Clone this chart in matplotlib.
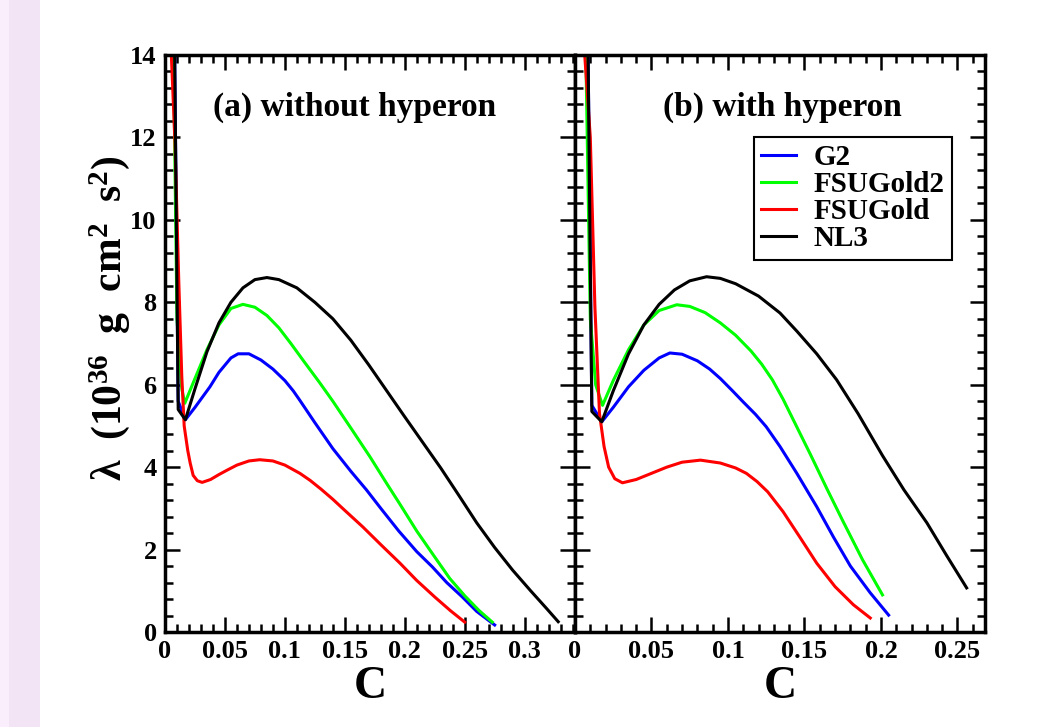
import matplotlib
matplotlib.use("Agg")
import matplotlib.pyplot as plt
from matplotlib.patches import Rectangle
from matplotlib.ticker import MultipleLocator

plt.rcParams['font.family'] = ['Liberation Serif', 'DejaVu Serif']
plt.rcParams['font.weight'] = 'bold'
plt.rcParams['axes.labelweight'] = 'bold'
plt.rcParams['mathtext.fontset'] = 'custom'
plt.rcParams['mathtext.rm'] = 'Liberation Serif:bold'
plt.rcParams['mathtext.it'] = 'Liberation Serif:bold'
plt.rcParams['mathtext.bf'] = 'Liberation Serif:bold'

# ---- panel (a): without hyperon ----
c_g2_a = [0.008, 0.011, 0.017, 0.025, 0.0375, 0.045, 0.055, 0.061, 0.07, 0.08, 0.09, 0.1, 0.107,
          0.1125, 0.125, 0.14, 0.155, 0.168, 0.18, 0.195, 0.21, 0.223, 0.235, 0.248, 0.26, 0.275]
l_g2_a = [14.2, 5.6, 5.15, 5.45, 5.95, 6.3, 6.65, 6.75, 6.75, 6.6, 6.38, 6.1, 5.85,
          5.62, 5.08, 4.45, 3.9, 3.45, 3.0, 2.45, 1.95, 1.58, 1.2, 0.85, 0.5, 0.17]

c_fsu2_a = [0.007, 0.010, 0.014, 0.0165, 0.025, 0.035, 0.045, 0.055, 0.065, 0.075, 0.085, 0.095,
            0.105, 0.115, 0.129, 0.14, 0.155, 0.171, 0.185, 0.196, 0.21, 0.225, 0.2375, 0.25, 0.262, 0.273]
l_fsu2_a = [14.2, 7.6, 5.9, 5.55, 6.15, 6.85, 7.45, 7.85, 7.95, 7.88, 7.68, 7.38,
            7.0, 6.6, 6.05, 5.6, 4.95, 4.25, 3.6, 3.1, 2.45, 1.82, 1.3, 0.88, 0.52, 0.24]

c_fsu_a = [0.005, 0.0083, 0.0115, 0.014, 0.016, 0.019, 0.021, 0.0235, 0.027, 0.031, 0.038, 0.045,
           0.052, 0.06, 0.07, 0.079, 0.09, 0.1, 0.1125, 0.121, 0.13, 0.14, 0.15, 0.165, 0.18,
           0.196, 0.21, 0.225, 0.238, 0.25]
l_fsu_a = [14.2, 11.9, 8.5, 6.2, 5.0, 4.4, 4.1, 3.8, 3.67, 3.63, 3.7, 3.82,
           3.93, 4.05, 4.15, 4.18, 4.15, 4.05, 3.85, 3.68, 3.47, 3.22, 2.95, 2.55, 2.12,
           1.67, 1.25, 0.85, 0.52, 0.24]

c_nl3_a = [0.008, 0.011, 0.017, 0.025, 0.035, 0.045, 0.055, 0.065, 0.075, 0.085, 0.095, 0.11,
           0.125, 0.14, 0.155, 0.17, 0.185, 0.2, 0.215, 0.23, 0.245, 0.26, 0.275, 0.29, 0.305,
           0.318, 0.328]
l_nl3_a = [14.2, 5.4, 5.15, 5.9, 6.8, 7.5, 8.0, 8.35, 8.55, 8.6, 8.55, 8.35,
           8.0, 7.6, 7.08, 6.48, 5.85, 5.22, 4.6, 3.98, 3.32, 2.65, 2.05, 1.5, 1.0, 0.58, 0.25]

# ---- panel (b): with hyperon ----
c_g2_b = [0.0085, 0.011, 0.0175, 0.025, 0.035, 0.045, 0.055, 0.062, 0.07, 0.08, 0.088, 0.095,
          0.103, 0.11, 0.118, 0.125, 0.134, 0.145, 0.158, 0.169, 0.18, 0.193, 0.205]
l_g2_b = [14.2, 5.5, 5.1, 5.45, 5.95, 6.35, 6.65, 6.77, 6.74, 6.58, 6.38, 6.15,
          5.85, 5.58, 5.28, 4.98, 4.5, 3.85, 3.04, 2.3, 1.6, 0.95, 0.41]

c_fsu2_b = [0.007, 0.010, 0.0135, 0.018, 0.025, 0.035, 0.045, 0.055, 0.0665, 0.075, 0.085, 0.095,
            0.105, 0.115, 0.122, 0.129, 0.136, 0.144, 0.154, 0.165, 0.175, 0.188, 0.201]
l_fsu2_b = [14.2, 7.6, 6.0, 5.5, 6.1, 6.85, 7.45, 7.8, 7.94, 7.9, 7.75, 7.5,
            7.2, 6.82, 6.5, 6.12, 5.65, 5.05, 4.3, 3.45, 2.7, 1.75, 0.9]

c_fsu_b = [0.006, 0.01, 0.013, 0.016, 0.019, 0.022, 0.026, 0.031, 0.04, 0.05, 0.06, 0.07,
           0.082, 0.095, 0.105, 0.112, 0.119, 0.126, 0.136, 0.147, 0.158, 0.17, 0.182, 0.193]
l_fsu_b = [14.2, 12.0, 7.9, 5.3, 4.5, 4.0, 3.72, 3.62, 3.7, 3.85, 4.0, 4.12,
           4.17, 4.1, 3.98, 3.85, 3.65, 3.4, 2.92, 2.3, 1.67, 1.1, 0.66, 0.34]

c_nl3_b = [0.0085, 0.011, 0.0175, 0.025, 0.035, 0.045, 0.055, 0.065, 0.075, 0.086, 0.095, 0.105,
           0.12, 0.134, 0.145, 0.158, 0.171, 0.185, 0.201, 0.215, 0.23, 0.243, 0.256]
l_nl3_b = [14.2, 5.35, 5.1, 5.85, 6.75, 7.45, 7.95, 8.3, 8.52, 8.62, 8.58, 8.45,
           8.15, 7.74, 7.3, 6.75, 6.12, 5.3, 4.28, 3.45, 2.65, 1.85, 1.07]

names = ['G2', 'FSUGold2', 'FSUGold', 'NL3']
colors = ['#0000ff', '#00ff00', '#ff0000', '#000000']
xticks_a = [0, 0.05, 0.1, 0.15, 0.2, 0.25, 0.3]
xticks_b = [0, 0.05, 0.1, 0.15, 0.2, 0.25]

fig = plt.figure(figsize=(10.38, 7.27), dpi=100)
fig.patches.append(Rectangle((0, 0), 9 / 1038, 1, transform=fig.transFigure,
                             facecolor='#fbeefc', edgecolor='none', zorder=0))
fig.patches.append(Rectangle((9 / 1038, 0), 31 / 1038, 1, transform=fig.transFigure,
                             facecolor='#f2e4f5', edgecolor='none', zorder=0))

bottom = 1 - 632 / 727
height = (632 - 55) / 727
ax1 = fig.add_axes([165 / 1038, bottom, 410 / 1038, height])
ax2 = fig.add_axes([575 / 1038, bottom, 410 / 1038, height])

data_a = [(c_g2_a, l_g2_a), (c_fsu2_a, l_fsu2_a), (c_fsu_a, l_fsu_a), (c_nl3_a, l_nl3_a)]
data_b = [(c_g2_b, l_g2_b), (c_fsu2_b, l_fsu2_b), (c_fsu_b, l_fsu_b), (c_nl3_b, l_nl3_b)]

for (cx, ly), col, nm in zip(data_a, colors, names):
    ax1.plot(cx, ly, color=col, lw=2.2, label=nm, solid_joinstyle='round')
for (cx, ly), col, nm in zip(data_b, colors, names):
    ax2.plot(cx, ly, color=col, lw=2.2, label=nm, solid_joinstyle='round')

ax1.set_xlim(0, 0.342)
ax2.set_xlim(0, 0.268)
for ax, xt in ((ax1, xticks_a), (ax2, xticks_b)):
    ax.set_ylim(0, 14)
    ax.set_xticks(xt)
    ax.set_xticklabels([f'{v:g}' for v in xt])
    ax.xaxis.set_minor_locator(MultipleLocator(0.01))
    ax.yaxis.set_major_locator(MultipleLocator(2))
    ax.yaxis.set_minor_locator(MultipleLocator(0.4))
    ax.tick_params(which='both', direction='in', top=True, right=True, width=1.8)
    ax.tick_params(which='major', length=10.5, labelsize=19, pad=6)
    ax.tick_params(which='minor', length=5.5)
    for sp in ax.spines.values():
        sp.set_linewidth(2.5)
    ax.set_xlabel('C', fontsize=33, fontweight='bold', labelpad=2)

ax2.tick_params(labelleft=False)

ax1.text(0.463, 0.91, '(a) without hyperon', transform=ax1.transAxes,
         ha='center', va='center', fontsize=24)
ax2.text(0.505, 0.91, '(b) with hyperon', transform=ax2.transAxes,
         ha='center', va='center', fontsize=24)

fig.text(110 / 1038, 1 - 318 / 727, 'λ  (10$^{36}$  g  cm$^{2}$  s$^{2}$)',
         rotation=90, ha='center', va='center', fontsize=30)

leg = ax2.legend(loc='upper right', bbox_to_anchor=(0.92, 0.858), borderaxespad=0,
                 fontsize=21, labelspacing=0.0, handlelength=1.2, handletextpad=0.6,
                 borderpad=0.25, fancybox=False, framealpha=1)
leg.get_frame().set_edgecolor('black')
leg.get_frame().set_linewidth(1.5)

fig.savefig('out.png', dpi=100)
